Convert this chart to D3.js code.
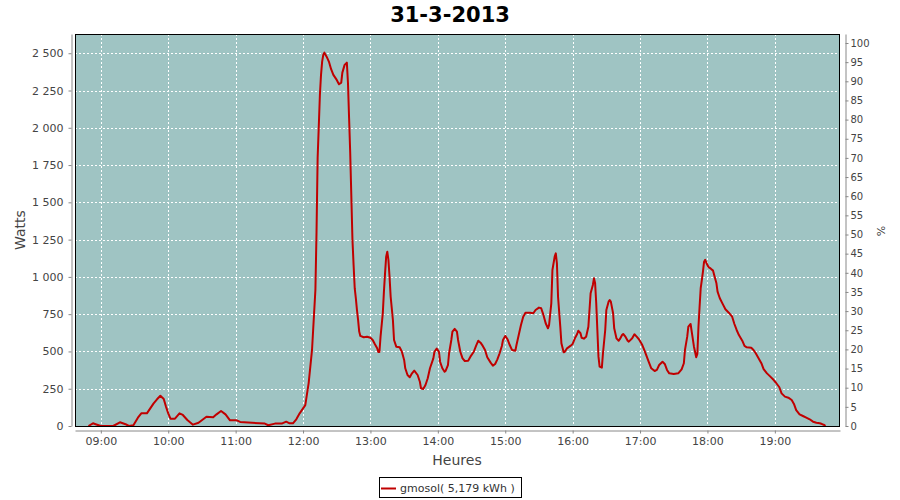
<!DOCTYPE html>
<html>
<head>
<meta charset="utf-8">
<script src="https://cdn.jsdelivr.net/npm/d3@7/dist/d3.min.js"></script>
<style>
  html, body { margin: 0; padding: 0; background: #ffffff; }
  svg { display: block; }
  text { font-family: "DejaVu Sans", sans-serif; }
</style>
</head>
<body>
<svg id="chart" width="900" height="500"></svg>
<script>
// ---------- data ----------
const chartTitle = "31-3-2013";
const seriesName = "gmosol( 5,179 kWh )";
const times = [
  "08:49","08:53","08:56","09:00","09:11","09:17","09:22","09:25","09:29","09:33",
  "09:36","09:41","09:47","09:50","09:53","09:56","09:58","10:00","10:02","10:06",
  "10:10","10:13","10:17","10:22","10:27","10:34","10:40","10:43","10:47","10:51",
  "10:55","11:01","11:04","11:26","11:29","11:35","11:41","11:45","11:48","11:51",
  "11:54","11:57","12:02","12:05","12:08","12:11","12:12","12:13","12:14","12:15",
  "12:16","12:17","12:18","12:19","12:21","12:23","12:25","12:27","12:30","12:32",
  "12:34","12:35","12:37","12:39","12:40","12:41","12:42","12:44","12:45","12:46",
  "12:47","12:48","12:49","12:50","12:51","12:54","12:57","13:00","13:02","13:04",
  "13:06","13:07","13:08","13:09","13:11","13:12","13:13","13:14","13:15","13:16",
  "13:17","13:18","13:20","13:21","13:23","13:26","13:28","13:30","13:31","13:33",
  "13:35","13:37","13:39","13:42","13:44","13:45","13:47","13:49","13:51","13:53",
  "13:56","13:57","13:59","14:01","14:02","14:04","14:06","14:07","14:09","14:10",
  "14:12","14:13","14:15","14:17","14:18","14:20","14:22","14:24","14:27","14:29",
  "14:32","14:34","14:36","14:38","14:40","14:42","14:44","14:47","14:49","14:51",
  "14:53","14:55","14:57","14:58","15:00","15:02","15:04","15:06","15:09","15:10",
  "15:12","15:14","15:16","15:18","15:22","15:25","15:27","15:30","15:32","15:34",
  "15:36","15:38","15:39","15:41","15:42","15:44","15:45","15:46","15:47","15:49",
  "15:50","15:52","15:53","15:55","15:58","16:00","16:02","16:04","16:05","16:07",
  "16:08","16:10","16:12","16:14","16:15","16:16","16:18","16:19","16:20","16:21",
  "16:22","16:23","16:24","16:26","16:27","16:29","16:30","16:32","16:33","16:34",
  "16:36","16:37","16:39","16:41","16:42","16:44","16:45","16:47","16:49","16:50",
  "16:53","16:55","16:57","16:59","17:02","17:04","17:06","17:08","17:10","17:13",
  "17:15","17:17","17:20","17:22","17:24","17:26","17:30","17:34","17:37","17:39",
  "17:40","17:42","17:43","17:45","17:46","17:48","17:50","17:51","17:52","17:53",
  "17:54","17:55","17:56","17:57","17:58","17:59","18:01","18:03","18:05","18:06",
  "18:08","18:09","18:11","18:14","18:16","18:19","18:22","18:24","18:26","18:28",
  "18:31","18:33","18:35","18:39","18:41","18:43","18:45","18:48","18:50","18:53",
  "18:56","18:59","19:01","19:04","19:06","19:09","19:12","19:15","19:17","19:19",
  "19:22","19:25","19:28","19:31","19:34","19:37","19:40","19:42","19:44","19:45"
];
const watts = [
  0,18,10,0,0,25,12,0,5,56,
  85,85,152,179,203,181,130,85,49,49,
  85,74,40,9,22,62,58,78,101,78,
  38,38,27,16,5,16,16,29,18,18,
  45,85,140,288,510,912,1300,1800,2008,2220,
  2355,2444,2489,2504,2477,2444,2393,2355,2321,2292,
  2303,2370,2422,2437,2300,2064,1829,1248,1080,924,
  857,778,711,633,604,595,599,592,577,548,
  521,496,496,599,756,901,1024,1136,1169,1114,
  1002,867,711,577,532,528,498,443,387,342,
  327,353,371,342,297,253,248,275,320,387,
  454,498,519,498,431,387,364,371,409,488,
  577,633,651,633,577,498,454,436,438,465,
  498,537,572,559,537,510,461,425,405,416,
  447,488,537,577,604,582,543,510,505,543,
  610,677,733,760,760,756,778,794,790,745,
  689,655,677,823,1046,1136,1158,1091,867,666,
  555,494,498,521,537,550,588,617,639,622,
  592,586,599,666,778,890,946,991,957,823,
  644,465,398,391,488,644,778,834,845,834,
  756,655,588,572,582,610,617,599,572,566,
  588,615,599,582,543,505,465,425,387,369,
  376,409,431,416,376,353,349,353,380,421,
  510,599,666,684,633,532,461,483,666,800,
  924,979,1035,1102,1114,1095,1065,1055,1042,1013,
  957,901,857,812,783,760,733,684,644,610,
  572,537,528,525,510,488,461,421,382,353,
  331,308,290,260,219,197,190,174,148,107,
  78,67,56,45,29,22,18,13,7,0
];
const hourTicks = ["09:00","10:00","11:00","12:00","13:00","14:00","15:00","16:00","17:00","18:00","19:00"];
const wattTicks = [0,250,500,750,1000,1250,1500,1750,2000,2250,2500];
const pctTicks = [0,5,10,15,20,25,30,35,40,45,50,55,60,65,70,75,80,85,90,95,100];
const xDomain = ["08:37","19:58"];
const wattMax = 2629;
const pctMax = 102.35;

// ---------- layout ----------
const plot = {left: 75, top: 34, right: 840, bottom: 426};
const parse = d3.timeParse("%H:%M");
const fmtTime = d3.timeFormat("%H:%M");
const loc = d3.formatLocale({decimal: ",", thousands: "\u00a0", grouping: [3], currency: ["", ""]});
const fmtW = v => loc.format(",d")(v).replace(/\u00a0/g, " ");

const data = times.map((t, i) => ({t: parse(t), v: watts[i]}));

const x = d3.scaleTime().domain(xDomain.map(parse)).range([plot.left, plot.right]);
const y = d3.scaleLinear().domain([0, wattMax]).range([plot.bottom, plot.top]);
const yR = d3.scaleLinear().domain([0, pctMax]).range([plot.bottom, plot.top]);

const svg = d3.select("#chart");

// title
svg.append("text")
  .attr("x", 450).attr("y", 22)
  .attr("text-anchor", "middle")
  .attr("font-size", 21).attr("font-weight", "bold")
  .attr("fill", "#000")
  .text(chartTitle);

// plot background
svg.append("rect")
  .attr("x", plot.left).attr("y", plot.top)
  .attr("width", plot.right - plot.left).attr("height", plot.bottom - plot.top)
  .attr("fill", "#9fc4c3");

// grid
const grid = svg.append("g").attr("stroke", "#ffffff").attr("stroke-width", 1).attr("stroke-dasharray", "2,2");
grid.selectAll("line.h").data(wattTicks).join("line")
  .attr("x1", plot.left).attr("x2", plot.right)
  .attr("y1", d => Math.round(y(d)) + 0.5).attr("y2", d => Math.round(y(d)) + 0.5);
grid.selectAll("line.v").data(hourTicks.map(parse)).join("line")
  .attr("y1", plot.top).attr("y2", plot.bottom)
  .attr("x1", d => Math.round(x(d)) + 0.5).attr("x2", d => Math.round(x(d)) + 0.5);

// series line
const line = d3.line().x(d => x(d.t)).y(d => y(d.v));
svg.append("path")
  .datum(data)
  .attr("d", line)
  .attr("fill", "none")
  .attr("stroke", "#c00000")
  .attr("stroke-width", 2)
  .attr("stroke-linejoin", "round");

// plot border
svg.append("rect")
  .attr("x", plot.left + 0.5).attr("y", plot.top + 0.5)
  .attr("width", plot.right - plot.left - 1).attr("height", plot.bottom - plot.top)
  .attr("fill", "none").attr("stroke", "#000").attr("stroke-width", 1);

// axes
function styleAxis(g) {
  g.select(".domain").attr("stroke", "#888");
  g.selectAll(".tick line").attr("stroke", "#888");
  g.selectAll(".tick text").attr("fill", "#444").attr("font-size", 11)
    .attr("font-family", "DejaVu Sans, sans-serif");
}

svg.append("g")
  .attr("transform", "translate(71.5,0)")
  .call(d3.axisLeft(y).tickValues(wattTicks).tickFormat(fmtW).tickSize(3).tickSizeOuter(0).tickPadding(5))
  .call(styleAxis);

svg.append("g")
  .attr("transform", "translate(845.5,0)")
  .call(d3.axisRight(yR).tickValues(pctTicks).tickSize(3).tickSizeOuter(0).tickPadding(2))
  .call(styleAxis)
  .call(g => g.selectAll(".tick text").attr("font-size", 10));

svg.append("g")
  .attr("transform", "translate(0,430.5)")
  .call(d3.axisBottom(x).tickValues(hourTicks.map(parse)).tickFormat(fmtTime).tickSize(3).tickSizeOuter(0).tickPadding(4))
  .call(styleAxis);

// axis labels
svg.append("text")
  .attr("transform", "translate(25,230) rotate(-90)")
  .attr("text-anchor", "middle")
  .attr("font-size", 14).attr("fill", "#444")
  .text("Watts");

svg.append("text")
  .attr("x", 457).attr("y", 465)
  .attr("text-anchor", "middle")
  .attr("font-size", 14).attr("fill", "#444")
  .text("Heures");

svg.append("text")
  .attr("transform", "translate(885,231) rotate(-90)")
  .attr("text-anchor", "middle")
  .attr("font-size", 11).attr("fill", "#444")
  .text("%");

// legend
const lg = svg.append("g");
lg.append("rect")
  .attr("x", 379.5).attr("y", 477.5).attr("width", 142).attr("height", 20)
  .attr("fill", "#fff").attr("stroke", "#000").attr("stroke-width", 1);
lg.append("line")
  .attr("x1", 381).attr("x2", 396).attr("y1", 488.5).attr("y2", 488.5)
  .attr("stroke", "#c00000").attr("stroke-width", 2);
lg.append("text")
  .attr("x", 400).attr("y", 492)
  .attr("font-size", 11).attr("fill", "#333")
  .text(seriesName);
</script>
</body>
</html>
